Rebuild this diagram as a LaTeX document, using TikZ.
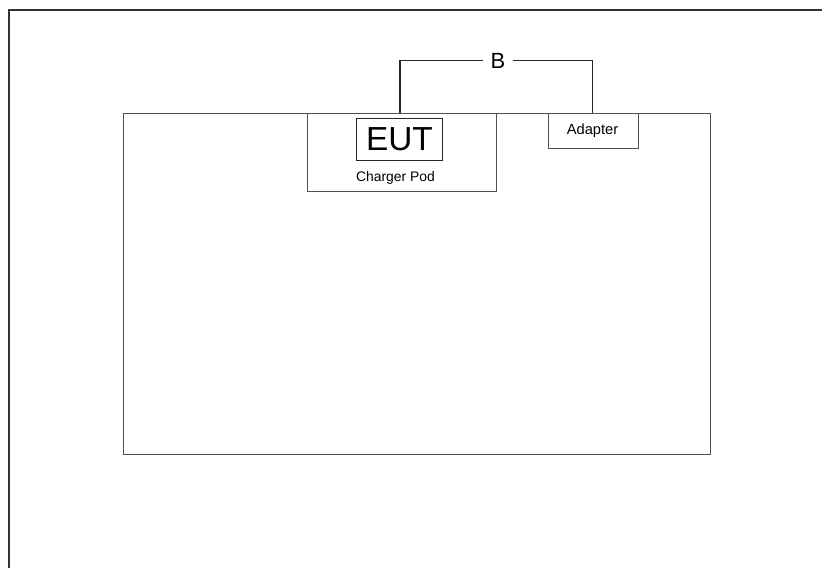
\documentclass[tikz,border=0pt]{standalone}
\usepackage{fontspec}
\setmainfont{Liberation Sans}
\definecolor{ln}{HTML}{505050}
\definecolor{fr}{HTML}{333333}
\begin{document}
\begin{tikzpicture}[x=0.75pt,y=-0.75pt,
  box/.style={draw=ln,line width=0.8pt,inner sep=0,anchor=north west},
  wire/.style={draw=black!85,line width=0.8pt}]
\useasboundingbox (0,0) rectangle (822,568);
% outer frame
\draw[fr,line width=1.2pt] (9,568) -- (9,10) -- (822,10);
% large box
\node[box,minimum width=587*0.75pt,minimum height=341*0.75pt] (big) at (123,112.5) {};
% charger pod
\node[box,minimum width=188.5*0.75pt,minimum height=78*0.75pt] (pod) at (307,112.5) {};
\node[box,draw=black!85,minimum width=86.5*0.75pt,minimum height=41.5*0.75pt,anchor=center,font=\fontsize{25}{25}\selectfont] (eut) at (399.5,139.3) {EUT};
\node[font=\fontsize{10.4}{11}\selectfont,inner sep=0] (podlbl) at (395.5,178) {Charger Pod};
% adapter
\node[box,minimum width=90*0.75pt,minimum height=35.5*0.75pt] (adapter) at (548,112.5) {};
\node[font=\fontsize{11}{12}\selectfont,inner sep=0] (adlbl) at (592.5,130.5) {Adapter};
% B connector
\node[inner sep=0,minimum width=30*0.75pt,font=\fontsize{16.5}{17}\selectfont] (B) at (498,60.5) {B};
\coordinate (c1) at (400,112.5);
\draw[wire] (c1) |- (B.west);
\draw[wire] (B.east) -| (adapter.north -| 592.5,0);
\end{tikzpicture}
\end{document}
